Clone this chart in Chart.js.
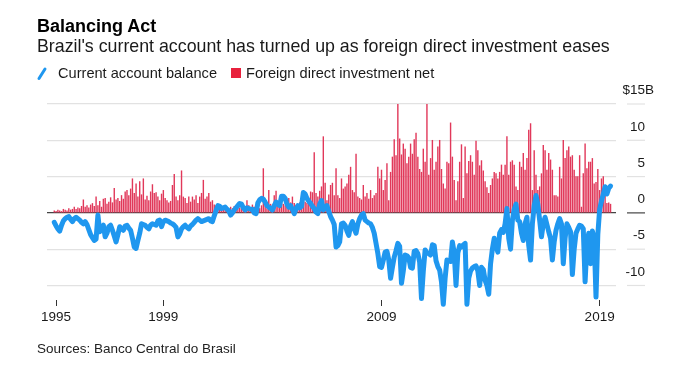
<!DOCTYPE html>
<html><head><meta charset="utf-8">
<script src="https://cdn.jsdelivr.net/npm/chart.js@4.4.1/dist/chart.umd.min.js"></script>
<style>
html,body{margin:0;padding:0;background:#fff;}
body{width:680px;height:375px;position:relative;overflow:hidden;font-family:"Liberation Sans",Arial,sans-serif;color:#111;}
canvas{position:absolute;left:0;top:0;}
.t{position:absolute;white-space:nowrap;line-height:1;}
#title{left:37px;top:17px;font-size:18px;font-weight:bold;color:#000;}
#sub{left:37px;top:38.3px;font-size:17.8px;color:#1a1a1a;}
.lg{top:65.9px;font-size:14.6px;color:#1a1a1a;}
#src{left:37px;top:341.5px;font-size:13.5px;color:#222;}
#sq{position:absolute;left:231px;top:68px;width:10px;height:10px;background:#e8213d;}
#sl{position:absolute;left:35px;top:66px;}
</style></head><body>
<canvas id="c" width="680" height="375"></canvas>
<div class="t" id="title">Balancing Act</div>
<div class="t" id="sub">Brazil's current account has turned up as foreign direct investment eases</div>
<svg id="sl" width="14" height="16"><line x1="4" y1="12.5" x2="10" y2="3" stroke="#1f97ef" stroke-width="3" stroke-linecap="round"/></svg>
<div class="t lg" style="left:58px">Current account balance</div>
<div id="sq"></div>
<div class="t lg" style="left:246px">Foreign direct investment net</div>
<div class="t" id="src">Sources: Banco Central do Brasil</div>
<script>
// Monthly categories, Jan 1995 .. Jul 2020
const months = [];
for (let y = 1995; y <= 2020; y++) for (let m = 1; m <= 12; m++) { if (y === 2020 && m > 7) break; months.push(y + '-' + String(m).padStart(2, '0')); }

// Current account balance, $B
const caBalance = [
 -1.3,-1.8,-2.2,-2.5,-1.7,-1.1,-0.8,-0.6,-0.5,-0.9,-1.2,-0.8,
 -0.6,-0.8,-1.0,-1.3,-1.5,-1.2,-1.6,-2.3,-3.0,-3.4,-3.8,-3.6,
 -0.3,-2.6,-2.0,-1.7,-3.3,-2.8,-1.9,-1.7,-2.4,-3.2,-4.0,-3.0,
 -1.9,-2.2,-2.4,-1.8,-1.7,-2.1,-2.4,-3.5,-4.7,-4.9,-3.8,-2.8,
 -1.5,-1.6,-1.7,-2.0,-2.2,-1.7,-1.5,-1.6,-1.7,-1.1,-1.0,-1.9,
 -1.2,-1.0,-1.1,-1.2,-1.4,-1.5,-1.7,-2.0,-3.3,-2.9,-2.2,-1.9,
 -1.7,-2.0,-2.2,-1.8,-1.6,-1.3,-1.0,-0.8,-1.0,-1.2,-1.1,-1.0,
 -0.9,-0.8,-1.1,-1.2,-0.4,0.3,1.0,0.9,0.6,0.7,0.8,0.5,
 0.3,-0.3,0.0,0.4,0.7,1.0,1.3,1.2,0.7,0.4,0.7,0.6,
 0.5,0.5,0.0,-0.1,1.4,1.8,2.0,1.9,1.5,1.0,0.8,0.6,
 0.4,1.0,1.5,1.2,1.0,2.3,2.3,2.0,1.2,0.8,1.0,0.5,
 -0.1,0.6,1.0,0.7,0.9,2.8,2.6,2.0,1.6,1.3,0.9,0.6,
 0.1,-0.1,1.2,1.7,0.4,0.7,1.0,0.2,-0.5,-1.0,-1.6,-4.7,
 -4.5,-4.0,-1.5,-1.4,-1.7,-2.5,-3.1,-1.8,-1.2,-2.2,-2.8,-1.5,
 -0.8,-0.3,-0.1,-1.0,-1.2,-1.4,-1.5,-2.0,-2.8,-4.2,-5.6,-7.4,
 -7.5,-6.5,-5.4,-5.3,-6.5,-9.0,-7.5,-6.1,-5.2,-4.2,-4.6,-9.7,
 -8.0,-5.8,-5.9,-6.2,-7.5,-7.6,-5.3,-5.2,-5.6,-6.8,-11.8,-8.0,
 -5.1,-5.5,-5.6,-5.8,-4.4,-4.5,-6.6,-7.4,-7.9,-9.5,-12.6,-9.0,
 -6.5,-6.6,-6.7,-4.0,-5.5,-10.0,-5.5,-4.5,-4.7,-4.4,-4.2,-12.6,
 -9.0,-8.0,-7.6,-7.4,-7.3,-8.0,-10.0,-7.5,-7.8,-9.3,-10.0,-11.2,
 -7.0,-5.0,-3.5,-4.5,-5.4,-2.8,-2.3,-2.7,-1.5,0.6,-3.5,-5.0,
 -1.0,0.5,1.2,-1.0,-1.2,-2.8,-3.8,-1.5,-0.6,-4.5,-6.5,-1.5,
 1.0,2.4,1.2,-1.0,-3.3,-1.5,-0.6,-1.6,-2.6,-3.5,-6.5,-4.0,
 -2.4,-1.5,-0.8,-1.5,-7.0,-3.5,-1.5,-2.0,-2.6,-8.5,-5.0,-2.8,
 -2.2,-1.7,-1.8,-2.2,-9.5,-4.5,-2.8,-7.0,-2.5,-3.5,-11.6,-3.0,
 0.5,1.6,2.6,3.6,2.6,3.4,3.7
];

// Foreign direct investment net, $B
const fdiNet = [
 0.3,0.2,0.4,0.3,0.2,0.5,0.4,0.3,0.6,0.4,0.5,0.8,
 0.5,0.7,0.6,0.9,1.8,0.8,1.0,0.7,1.1,1.3,0.9,2.2,
 1.0,1.6,0.8,1.9,2.0,1.2,1.5,2.1,1.4,3.4,1.8,2.0,
 1.6,2.4,1.9,2.9,3.1,2.4,3.3,4.7,2.7,4.0,2.2,4.3,
 2.5,4.7,1.8,2.3,1.7,2.9,3.9,2.7,2.8,2.2,1.7,2.6,
 3.1,2.0,1.7,1.4,1.6,3.8,5.3,2.2,1.7,2.4,5.8,2.2,
 2.0,1.3,2.2,1.5,2.2,1.8,2.4,1.3,2.2,2.7,4.5,1.9,
 2.2,2.7,1.5,1.7,1.1,1.0,0.9,1.0,0.8,0.6,0.7,0.8,
 0.5,0.8,0.6,0.9,1.0,0.6,0.7,0.8,1.2,0.9,1.7,1.0,
 0.6,1.1,0.8,0.7,1.2,0.6,1.0,6.1,0.9,0.6,3.1,1.2,
 1.0,2.4,3.0,1.0,0.8,1.3,1.2,1.0,1.5,2.0,1.4,2.2,
 1.3,0.9,1.0,1.4,1.3,1.6,1.5,1.3,1.8,2.9,2.8,8.3,
 2.7,2.2,3.0,3.6,10.5,4.1,1.7,2.5,3.8,4.1,2.4,6.1,
 2.4,2.0,4.7,3.3,3.6,4.0,5.2,6.3,3.1,2.8,8.1,2.2,
 2.0,1.8,3.8,2.2,2.7,1.9,3.1,2.0,2.4,2.7,6.3,4.7,
 5.9,3.1,4.5,6.8,1.7,5.6,7.7,10.1,7.9,16.2,10.2,8.0,
 9.5,8.8,6.8,7.7,9.5,8.1,10.1,11.0,7.7,6.0,5.6,8.8,
 7.0,15.1,5.2,7.5,10.0,5.9,7.0,9.1,10.0,6.0,4.0,3.3,
 7.0,6.8,12.4,7.7,4.5,1.7,4.3,7.0,9.4,2.0,9.1,5.4,
 7.1,7.9,7.0,5.2,9.9,8.6,6.5,7.2,5.8,4.3,3.5,2.7,
 3.8,4.7,5.6,5.4,4.7,5.6,6.6,5.2,6.6,10.5,5.2,7.0,
 7.2,6.6,3.6,3.1,7.0,6.3,8.2,5.9,7.5,11.4,12.3,3.1,
 8.6,5.2,3.1,3.6,5.4,9.3,8.6,5.9,8.2,7.3,5.9,2.4,
 2.4,2.2,6.3,4.7,10.0,7.5,8.6,9.1,7.7,7.9,5.9,5.0,
 5.0,7.9,0.8,5.4,9.5,6.1,7.0,7.0,7.5,4.0,4.2,6.0,
 3.1,4.7,5.0,3.1,1.3,1.4,1.2
];

// Axis tick labels
const xTickMonths = ['1995-02', '2000-01', '2010-01', '2020-01'];
const xTickLabels = ['1995', '1999', '2009', '2019'];
const yTickValues = [-10, -5, 0, 5, 10, 15];
const yTickLabels = ['-10', '-5', '0', '5', '10', '15'];

const LINE = '#1f97ef', BAR = '#e1385a', GRID = '#e2e2e2', ZERO = '#444';
const FONT = '"Liberation Sans", Arial, sans-serif';

const yLabelPlugin = {
  id: 'ylab',
  afterDraw(chart) {
    const s = chart.scales.y, c = chart.ctx, ca = chart.chartArea;
    const x0 = ca.right + 11, x1 = ca.right + 29;
    c.save();
    c.font = '13.5px ' + FONT;
    c.fillStyle = '#1a1a1a';
    c.textBaseline = 'middle';
    yTickValues.forEach((v, k) => {
      const y = s.getPixelForValue(v);
      c.strokeStyle = v === 0 ? ZERO : GRID;
      c.lineWidth = 1.2;
      c.beginPath(); c.moveTo(x0, y); c.lineTo(x1, y); c.stroke();
      const lab = yTickLabels[k];
      const ly = y - 13.5;
      c.textAlign = 'right';
      c.fillText(lab, x1, ly);
      if (k === yTickValues.length - 1) {
        const w = c.measureText(lab).width;
        c.fillText('$', x1 - w, ly);
        c.textAlign = 'left';
        c.fillText('B', x1, ly);
      }
    });
    c.restore();
  }
};

new Chart(document.getElementById('c'), {
  data: {
    datasets: [
      { type: 'line', label: 'Current account balance',
        data: months.map((m, i) => ({ x: i, y: caBalance[i] })),
        borderColor: LINE, borderWidth: 5, pointRadius: 0, tension: 0,
        borderJoinStyle: 'round', borderCapStyle: 'round', clip: false, order: 0 },
      { type: 'bar', label: 'Foreign direct investment net',
        data: months.map((m, i) => ({ x: i, y: fdiNet[i] })),
        backgroundColor: BAR, barThickness: 0.75, grouped: false, order: 1 }
    ]
  },
  options: {
    responsive: false, devicePixelRatio: 1, animation: false,
    layout: { padding: { left: 47, top: 104, right: 0, bottom: 45 } },
    plugins: { legend: { display: false }, tooltip: { enabled: false } },
    scales: {
      x: {
        type: 'linear', min: -4, max: 309, offset: false, bounds: 'ticks',
        afterFit(s) { s.height = 30; },
        afterBuildTicks(s) { s.ticks = xTickMonths.map(m => ({ value: months.indexOf(m) })); },
        ticks: { autoSkip: false, maxRotation: 0, padding: 3, color: '#1a1a1a',
          font: { size: 13.5, family: FONT },
          callback: v => { const k = xTickMonths.indexOf(months[v]); return k >= 0 ? xTickLabels[k] : ''; } },
        grid: { offset: false, drawOnChartArea: false, drawTicks: true, tickLength: 6, tickColor: '#333', tickWidth: 1 },
        border: { display: false }
      },
      y: {
        type: 'linear', position: 'right', min: -12, max: 15,
        afterFit(s) { s.width = 64; },
        afterBuildTicks(s) { s.ticks = yTickValues.map(v => ({ value: v })); },
        ticks: { display: false },
        grid: { drawTicks: false, lineWidth: 1.2, color: c => (c.tick && c.tick.value === 0) ? ZERO : GRID },
        border: { display: false }
      }
    }
  },
  plugins: [yLabelPlugin]
});
</script>
</body></html>
